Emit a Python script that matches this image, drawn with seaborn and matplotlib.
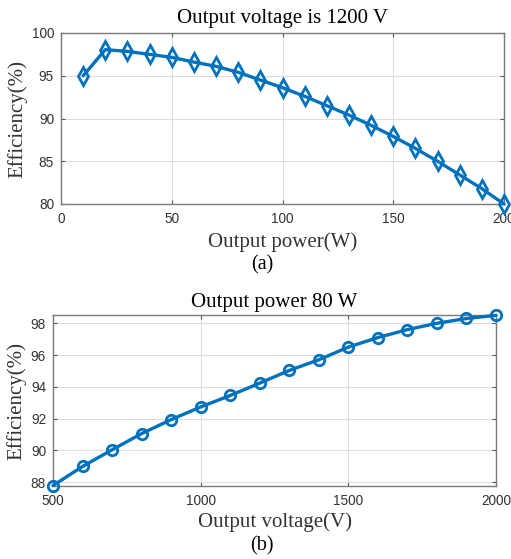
import matplotlib
matplotlib.use("Agg")
import matplotlib.pyplot as plt
import seaborn as sns
import pandas as pd

# Data
power_w = [10, 20, 30, 40, 50, 60, 70, 80, 90, 100, 110, 120, 130, 140, 150, 160, 170, 180, 190, 200]
eff_a = [95.0, 98.05, 97.85, 97.5, 97.15, 96.6, 96.1, 95.4, 94.5, 93.6, 92.6, 91.5, 90.4, 89.2, 87.9, 86.5, 85.0, 83.4, 81.8, 80.0]
voltage_v = [500, 600, 700, 800, 900, 1000, 1100, 1200, 1300, 1400, 1500, 1600, 1700, 1800, 1900, 2000]
eff_b = [87.78, 88.98, 90.03, 91.05, 91.93, 92.73, 93.45, 94.23, 95.03, 95.7, 96.5, 97.1, 97.6, 98.0, 98.3, 98.5]

xticks_a = [0, 50, 100, 150, 200]
yticks_a = [80, 85, 90, 95, 100]
xticks_b = [500, 1000, 1500, 2000]
yticks_b = [88, 90, 92, 94, 96, 98]

sns.set_theme(style="whitegrid")
serif = ["Liberation Serif", "DejaVu Serif"]
sans = ["Liberation Sans", "DejaVu Sans"]
plt.rcParams["font.family"] = sans

blue = "#0072BD"
fig = plt.figure(figsize=(5.11, 5.59), dpi=100)
ax1 = fig.add_axes([61/511, 1-204/559, 443/511, 171/559])
ax2 = fig.add_axes([53/511, 1-486/559, 443/511, 171/559])

dfa = pd.DataFrame({"x": power_w, "y": eff_a})
dfb = pd.DataFrame({"x": voltage_v, "y": eff_b})
sns.lineplot(data=dfa, x="x", y="y", ax=ax1, color=blue, lw=2.4, marker="d",
             markersize=9, markerfacecolor="none", markeredgecolor=blue, markeredgewidth=2.0, clip_on=False, zorder=3)
sns.lineplot(data=dfb, x="x", y="y", ax=ax2, color=blue, lw=2.4, marker="o",
             markersize=7.5, markerfacecolor="none", markeredgecolor=blue, markeredgewidth=2.0, clip_on=False, zorder=3)

for ax, xt, yt, xl, yl in [(ax1, xticks_a, yticks_a, (0, 200), (80, 100)),
                           (ax2, xticks_b, yticks_b, (500, 2000), (87.75, 98.52))]:
    ax.set_xlim(*xl)
    ax.set_ylim(*yl)
    ax.set_xticks(xt)
    ax.set_yticks(yt)
    ax.set_facecolor("white")
    ax.grid(True, color="#dddddd", lw=0.8)
    for s in ax.spines.values():
        s.set_visible(True)
        s.set_color("#7a7a7a")
        s.set_linewidth(1.0)
    ax.tick_params(axis="both", which="both", direction="in", length=3, width=0.8,
                   color="#555555", labelsize=9.8, labelcolor="#333333",
                   top=True, right=True, bottom=True, left=True)
    ax.tick_params(axis="x", pad=6)
    ax.tick_params(axis="y", pad=5)
    ax.set_xlabel("")
    ax.set_ylabel("Efficiency(%)", fontsize=15, family=serif, color="#333333", labelpad=3)

ax1.set_title("Output voltage is 1200 V", fontsize=15, family=serif, color="black", pad=7)
ax2.set_title("Output power 80 W", fontsize=15, family=serif, color="black", pad=6)
ax1.set_xlabel("Output power(W)", fontsize=15, family=serif, color="#333333", labelpad=4)
ax2.set_xlabel("Output voltage(V)", fontsize=15, family=serif, color="#333333", labelpad=3)

fig.text(262/511, 1-265/559, "(a)", ha="center", va="center", fontsize=14.5, family=serif, color="black")
fig.text(262/511, 1-546/559, "(b)", ha="center", va="center", fontsize=14.5, family=serif, color="black")

fig.savefig("out.png", dpi=100, facecolor="white")
